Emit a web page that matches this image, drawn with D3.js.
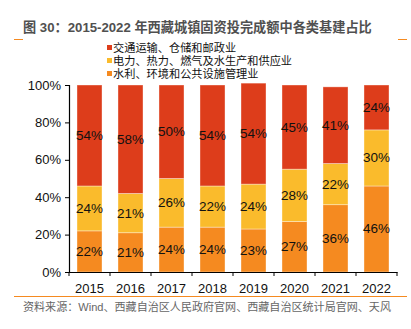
<!DOCTYPE html>
<html>
<head>
<meta charset="utf-8">
<script src="https://cdn.jsdelivr.net/npm/d3@7"></script>
<style>
  body { margin: 0; background: #fff; }
  svg text { font-family: "Liberation Sans", Arial, "Noto Sans CJK SC", sans-serif; }
</style>
</head>
<body>
<div class="plot"></div>
<script>
//DATA
let years = ["2015", "2016", "2017", "2018", "2019", "2020", "2021", "2022"];
let seriesNames = ["水利、环境和公共设施管理业", "电力、热力、燃气及水生产和供应业", "交通运输、仓储和邮政业"];
let water = [22, 21, 24, 24, 23, 27, 36, 46];
let power = [24, 21, 26, 22, 24, 28, 22, 30];
let transport = [54, 58, 50, 54, 54, 45, 41, 24];
let yTicks = [0, 20, 40, 60, 80, 100];
let colors = ["#F58A20", "#FABB2C", "#DD3D1B"];

//GENERAL VARIABLES
let w = 411, h = 329;
let plotLeft = 69, plotRight = 397, plotTop = 85, plotBottom = 272;

let svg = d3.select(".plot").append("svg")
    .attr("width", w)
    .attr("height", h);

//TITLE
svg.append("text")
    .attr("x", 23)
    .attr("y", 32)
    .attr("font-size", 13.2)
    .attr("font-weight", "bold")
    .attr("fill", "#505050")
    .attr("font-family", "'Noto Sans CJK SC', sans-serif")
    .text("图 30：2015-2022 年西藏城镇固资投完成额中各类基建占比");

svg.append("line").attr("x1", 14).attr("x2", 23).attr("y1", 39.5).attr("y2", 39.5)
    .attr("stroke", "#F58A20").attr("stroke-width", 1);
svg.append("line").attr("x1", 398).attr("x2", 407).attr("y1", 39.5).attr("y2", 39.5)
    .attr("stroke", "#F58A20").attr("stroke-width", 1);

//LEGEND (top series first)
let legendOrder = [2, 1, 0];
let legend = svg.append("g").attr("transform", "translate(107,0)");
legendOrder.forEach(function(k, i) {
  let cy = 48 + i * 13;
  legend.append("rect")
      .attr("x", 0).attr("y", cy - 3)
      .attr("width", 5).attr("height", 5)
      .attr("fill", colors[k]);
  legend.append("text")
      .attr("x", 6)
      .attr("y", cy)
      .attr("dominant-baseline", "central")
      .attr("font-size", 11.2)
      .attr("fill", "#111")
      .attr("font-family", "'Noto Sans CJK SC', sans-serif")
      .text(seriesNames[k]);
});

//SCALES
let xScale = d3.scaleBand()
    .domain(years)
    .range([plotLeft, plotRight])
    .paddingInner(0.39)
    .paddingOuter(0.195);

let yScale = d3.scaleLinear()
    .domain([0, 100])
    .range([plotBottom, plotTop]);

//STACK
let table = years.map(function(y, i) {
  return { year: y, water: water[i], power: power[i], transport: transport[i] };
});
let stack = d3.stack().keys(["water", "power", "transport"]);
let layers = stack(table);

let groups = svg.selectAll("g.layer")
    .data(layers)
    .enter()
    .append("g")
    .attr("class", "layer")
    .attr("fill", function(d, i) { return colors[i]; });

groups.selectAll("rect")
    .data(function(d) { return d; })
    .enter()
    .append("rect")
    .attr("x", function(d) { return xScale(d.data.year); })
    .attr("y", function(d) { return yScale(d[1]); })
    .attr("width", xScale.bandwidth())
    .attr("height", function(d) { return yScale(d[0]) - yScale(d[1]); })
    .attr("stroke", "rgba(255,255,255,0.45)")
    .attr("stroke-width", 0.8);

//BAR LABELS
groups.selectAll("text")
    .data(function(d) { return d; })
    .enter()
    .append("text")
    .attr("x", function(d) { return xScale(d.data.year) + xScale.bandwidth() / 2; })
    .attr("y", function(d) { return yScale((d[0] + d[1]) / 2); })
    .attr("text-anchor", "middle")
    .attr("dominant-baseline", "central")
    .attr("font-size", 13.5)
    .attr("fill", "#111")
    .text(function(d) { return (d[1] - d[0]) + "%"; });

//AXES
let yAxis = d3.axisLeft(yScale)
    .tickValues(yTicks)
    .tickSize(4)
    .tickFormat(function(d) { return d + "%"; });
let yG = svg.append("g")
    .attr("transform", "translate(" + plotLeft + ",0)")
    .call(yAxis);
yG.select(".domain").attr("stroke", "#000").attr("stroke-width", 1.2);
yG.selectAll(".tick line").attr("stroke", "#000");
yG.selectAll(".tick text").attr("font-size", 13).attr("fill", "#111").attr("x", -8);

let xAxis = d3.axisBottom(xScale).tickSize(0).tickSizeOuter(0);
let xG = svg.append("g")
    .attr("transform", "translate(0," + plotBottom + ")")
    .call(xAxis);
xG.select(".domain").attr("stroke", "#000").attr("stroke-width", 1.2);
xG.selectAll(".tick text").attr("font-size", 13).attr("fill", "#111").attr("dy", "1.35em");

// category boundary ticks
let bounds = d3.range(years.length + 1).map(function(i) { return plotLeft + i * xScale.step(); });
xG.selectAll("line.bound")
    .data(bounds)
    .enter()
    .append("line")
    .attr("class", "bound")
    .attr("x1", function(d) { return d; })
    .attr("x2", function(d) { return d; })
    .attr("y1", 0)
    .attr("y2", 4)
    .attr("stroke", "#000");

//SOURCE
svg.append("line").attr("x1", 14).attr("x2", 407).attr("y1", 296.5).attr("y2", 296.5)
    .attr("stroke", "#F58A20").attr("stroke-width", 1);
svg.append("text")
    .attr("x", 23)
    .attr("y", 311)
    .attr("font-size", 10.8)
    .attr("fill", "#666")
    .attr("textLength", 368)
    .attr("lengthAdjust", "spacingAndGlyphs")
    .attr("font-family", "'Noto Sans CJK SC', sans-serif")
    .text("资料来源：Wind、西藏自治区人民政府官网、西藏自治区统计局官网、天风");
</script>
</body>
</html>
